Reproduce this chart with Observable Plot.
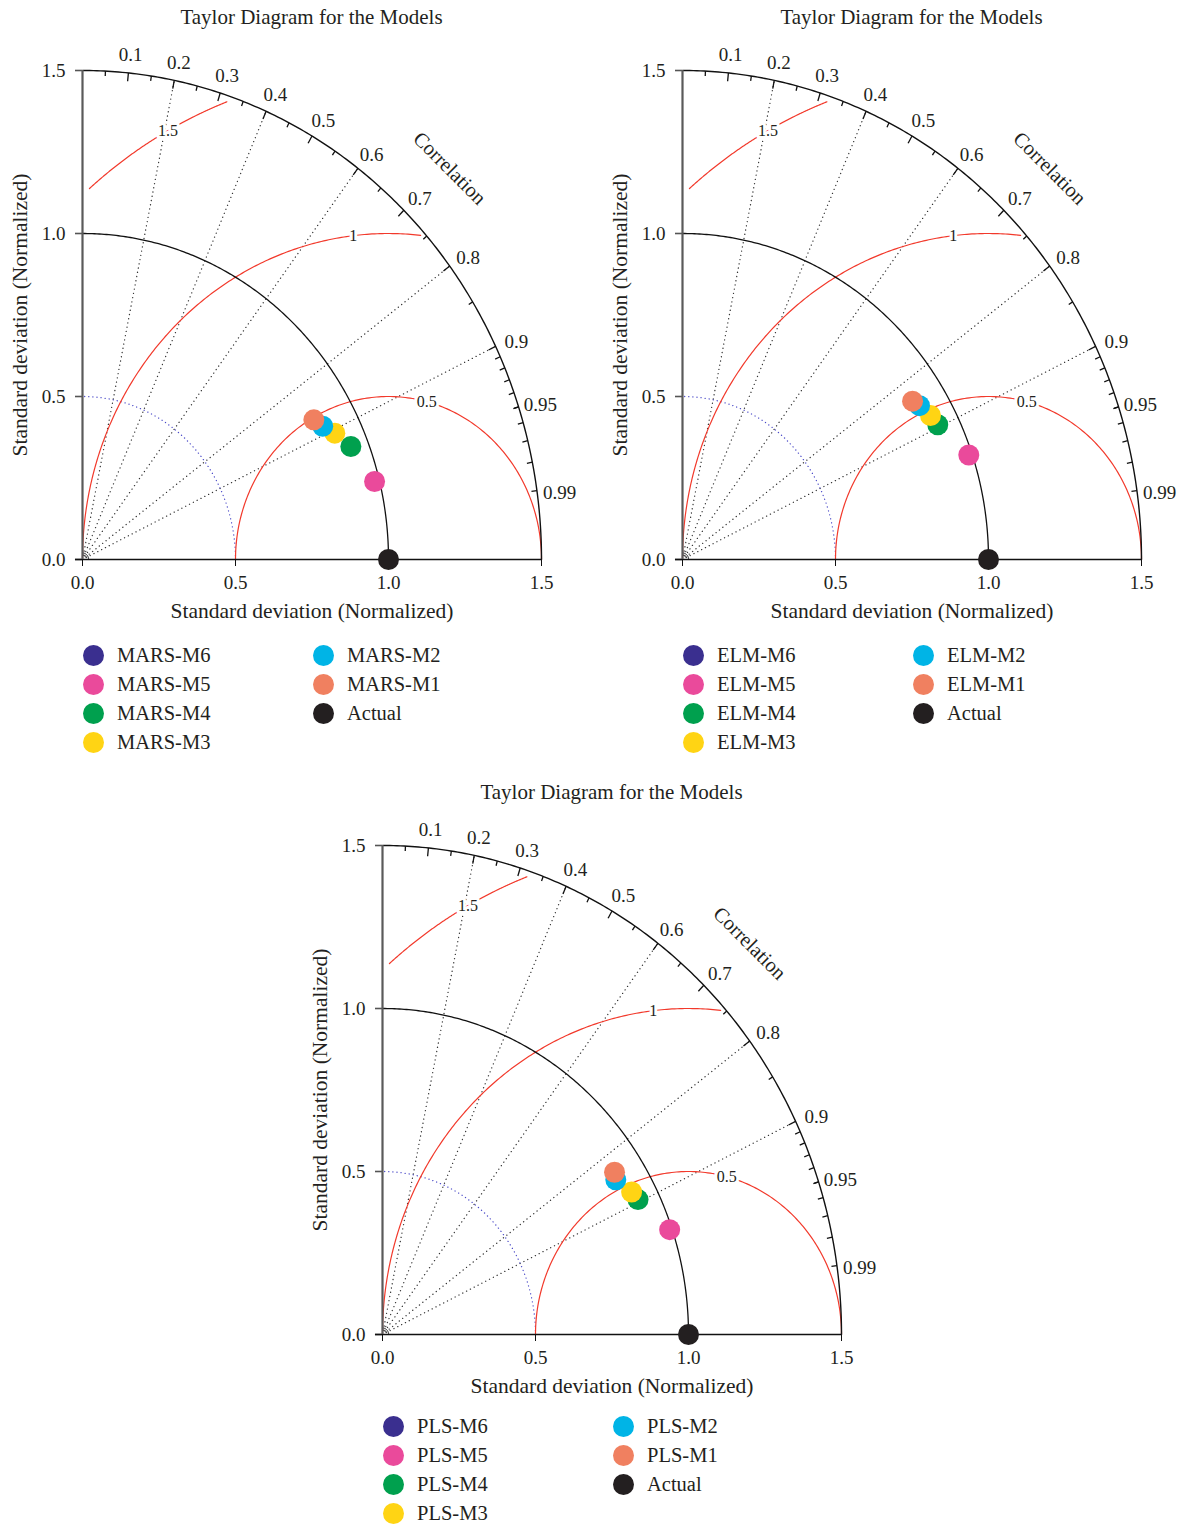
<!DOCTYPE html>
<html>
<head>
<meta charset="utf-8">
<script src="https://cdn.jsdelivr.net/npm/d3@7"></script>
<script src="https://cdn.jsdelivr.net/npm/@observablehq/plot@0.6"></script>
<style>
  body { margin: 0; background: #fff; font-family: "Liberation Serif", "DejaVu Serif", serif; color: #231f20; }
  #page { position: relative; width: 1188px; height: 1526px; overflow: hidden; }
  .panel { position: absolute; width: 600px; height: 760px; }
  .title { position: absolute; left: 52px; width: 519px; top: 0; height: 35px; line-height: 35px; text-align: center; font-size: 21px; }
  .plot { position: absolute; left: 0; top: 35px; }
  .legend { position: absolute; left: 0; top: 630px; width: 600px; height: 116px; }
  .item { position: absolute; height: 18px; font-size: 20.5px; line-height: 18px; white-space: nowrap; }
  .item .sw { position: absolute; left: -34px; top: -1.5px; width: 21px; height: 21px; border-radius: 50%; }
</style>
</head>
<body>
<div id="page"></div>
<script>
// ---------------- data ----------------
const models = ["M6", "M5", "M4", "M3", "M2", "M1"];
const modelColors = ["#3a2f8f", "#ea4a9b", "#00a04e", "#ffd414", "#00b4e6", "#f08060"];
const actualColor = "#231f20";

// normalized standard deviation and correlation of each model (M6 not visible in plot)
const marsSd  = [null, 0.984, 0.943, 0.911, 0.885, 0.869];
const marsCor = [null, 0.970, 0.930, 0.905, 0.887, 0.870];
const elmSd   = [null, 0.989, 0.931, 0.923, 0.907, 0.895];
const elmCor  = [null, 0.946, 0.896, 0.878, 0.854, 0.840];
const plsSd   = [null, 0.992, 0.932, 0.924, 0.898, 0.907];
const plsCor  = [null, 0.946, 0.896, 0.881, 0.849, 0.836];
const actualSd = 1.0, actualCor = 1.0;

const sdTicks = [0, 0.5, 1.0, 1.5];
const maxSd = 1.5;
const corMajor = [0.1, 0.2, 0.3, 0.4, 0.5, 0.6, 0.7, 0.8, 0.9];
const corMedium = [0.05, 0.15, 0.25, 0.35, 0.45, 0.55, 0.65, 0.75, 0.85, 0.95];
const corSmall = [0.91, 0.92, 0.93, 0.94, 0.95, 0.96, 0.97, 0.98, 0.99];
const corLabels = [0.1, 0.2, 0.3, 0.4, 0.5, 0.6, 0.7, 0.8, 0.9, 0.95, 0.99];
const corLines = [0.2, 0.4, 0.6, 0.8, 0.9];
const rmsLevels = [0.5, 1, 1.5];
const rmsLabelAngles = [75.5, 96.6, 118.7]; // degrees around the reference point

const titleText = "Taylor Diagram for the Models";
const axisTitle = "Standard deviation (Normalized)";

// ---------------- helpers ----------------
function arcPts(cx, r, t0, t1, key, n = 200) {
  return d3.range(n + 1).map(i => {
    const t = t0 + (t1 - t0) * i / n;
    return { x: cx + r * Math.cos(t), y: r * Math.sin(t), k: key };
  });
}
const sinOf = c => Math.sqrt(Math.max(0, 1 - c * c));

function makePanel(name, sdArr, corArr, left, top, legendShift) {
  const panel = document.createElement("div");
  panel.className = "panel";
  panel.style.left = left + "px";
  panel.style.top = top + "px";

  const title = document.createElement("div");
  title.className = "title";
  title.textContent = titleText;
  panel.appendChild(title);

  // grid geometry
  const outer = arcPts(0, maxSd, 0, Math.PI / 2, "outer");
  const refArc = arcPts(0, actualSd, 0, Math.PI / 2, "ref");
  const tiny = arcPts(0, 0.02, 0, Math.PI / 2, "tiny", 20);
  const halfArc = arcPts(0, 0.5, 0, Math.PI / 2, "half");
  const rmsArcs = rmsLevels.flatMap(g => {
    const c0 = (maxSd * maxSd - actualSd * actualSd - g * g) / (2 * g * actualSd);
    const t0 = c0 >= 1 ? 0 : Math.acos(c0) + 0.02;
    const t1 = g <= actualSd ? Math.PI : Math.acos(-actualSd / g) - 0.02;
    return arcPts(actualSd, g, t0, t1, "g" + g);
  });

  const pts = [];
  models.forEach((m, i) => {
    if (sdArr[i] == null) return;
    pts.push({ x: sdArr[i] * corArr[i], y: sdArr[i] * sinOf(corArr[i]), color: modelColors[i] });
  });

  const tickLinks = [
    ...corMajor.map(c => ({ c, f: 0.983 })),
    ...corMedium.map(c => ({ c, f: 0.99 })),
    ...corSmall.map(c => ({ c, f: 0.988 }))
  ];

  const plot = Plot.plot({
    width: 600,
    height: 595,
    marginLeft: 82,
    marginRight: 59,
    marginTop: 35,
    marginBottom: 71,
    x: { domain: [0, maxSd] },
    y: { domain: [0, maxSd] },
    style: { fontFamily: "Liberation Serif, DejaVu Serif, serif", fontSize: "19px", color: "#231f20", overflow: "visible", background: "transparent" },
    marks: [
      // radial correlation lines
      Plot.link(corLines, {
        x1: () => 0, y1: () => 0,
        x2: c => maxSd * c, y2: c => maxSd * sinOf(c),
        stroke: "#333", strokeWidth: 1.3, strokeDasharray: "0.1,4.2", strokeLinecap: "round"
      }),
      // sd 0.5 dotted arc
      Plot.line(halfArc, { x: "x", y: "y", stroke: "#4a4ac8", strokeWidth: 1.3, strokeDasharray: "0.1,4", strokeLinecap: "round" }),
      // RMSD contours
      Plot.line(rmsArcs, { x: "x", y: "y", z: "k", stroke: "#f2392b", strokeWidth: 1.2 }),
      Plot.text(rmsLevels, {
        x: (g, i) => actualSd + g * Math.cos(rmsLabelAngles[i] * Math.PI / 180),
        y: (g, i) => g * Math.sin(rmsLabelAngles[i] * Math.PI / 180),
        text: g => String(g),
        fontSize: 16, fill: "#231f20", stroke: "white", strokeWidth: 6
      }),
      // reference sd arc, outer arc, tiny arc
      Plot.line(refArc, { x: "x", y: "y", stroke: "#111", strokeWidth: 1.3 }),
      Plot.line(outer, { x: "x", y: "y", stroke: "#111", strokeWidth: 1.4 }),
      Plot.line(tiny, { x: "x", y: "y", stroke: "#111", strokeWidth: 1 }),
      // correlation ticks
      Plot.link(tickLinks, {
        x1: d => maxSd * d.c, y1: d => maxSd * sinOf(d.c),
        x2: d => maxSd * d.f * d.c, y2: d => maxSd * d.f * sinOf(d.c),
        stroke: "#111", strokeWidth: 1.3
      }),
      Plot.text(corLabels, {
        x: c => 1.05 * maxSd * c, y: c => 1.05 * maxSd * sinOf(c),
        text: c => String(c), dy: 6, fontSize: 19, fill: "#231f20"
      }),
      Plot.text(["Correlation"], { x: () => 1.2, y: () => 1.2, text: d => d, rotate: 45, fontSize: 20.5, fill: "#231f20" }),
      // axes
      Plot.axisX({ ticks: sdTicks, tickFormat: d3.format(".1f"), tickSize: 7, tickPadding: 9, fontSize: 19, label: null, stroke: "#111" }),
      Plot.axisY({ ticks: sdTicks, tickFormat: d3.format(".1f"), tickSize: 7, tickPadding: 10, fontSize: 19, label: null, stroke: "#555", strokeWidth: 1.6 }),
      Plot.ruleY([0], { x1: -0.023, x2: maxSd, stroke: "#111", strokeWidth: 1.4 }),
      Plot.ruleX([0], { y1: 0, y2: maxSd, stroke: "#5a5a5a", strokeWidth: 2.2 }),
      Plot.text([axisTitle], { frameAnchor: "bottom", lineAnchor: "middle", textAnchor: "middle", text: d => d, dy: 52, fontSize: 21.5, fill: "#231f20" }),
      Plot.text([axisTitle], { frameAnchor: "left", lineAnchor: "middle", textAnchor: "middle", text: d => d, dx: -62, rotate: -90, fontSize: 21.5, fill: "#231f20" }),
      // points
      Plot.dot([{ x: actualSd * actualCor, y: actualSd * sinOf(actualCor) }], { x: "x", y: "y", r: 10.5, fill: actualColor }),
      Plot.dot(pts, { x: "x", y: "y", r: 10.5, fill: d => d.color })
    ]
  });
  plot.classList.add("plot");
  panel.appendChild(plot);

  // legend
  const legend = document.createElement("div");
  legend.className = "legend";
  legend.style.top = (630 + legendShift) + "px";
  const entries = models.map((m, i) => ({ label: name + "-" + m, color: modelColors[i] }))
    .concat([{ label: "Actual", color: actualColor }]);
  entries.forEach((e, i) => {
    const col = Math.floor(i / 4), row = i % 4;
    const item = document.createElement("div");
    item.className = "item";
    item.style.left = (col === 0 ? 117 : 347) + "px";
    item.style.top = (16 + row * 29) + "px";
    const sw = document.createElement("span");
    sw.className = "sw";
    sw.style.background = e.color;
    item.appendChild(sw);
    item.appendChild(document.createTextNode(e.label));
    legend.appendChild(item);
  });
  panel.appendChild(legend);

  document.getElementById("page").appendChild(panel);
}

makePanel("MARS", marsSd, marsCor, 0, 0, 0);
makePanel("ELM", elmSd, elmCor, 600, 0, 0);
makePanel("PLS", plsSd, plsCor, 300, 775, -4);
</script>
</body>
</html>
